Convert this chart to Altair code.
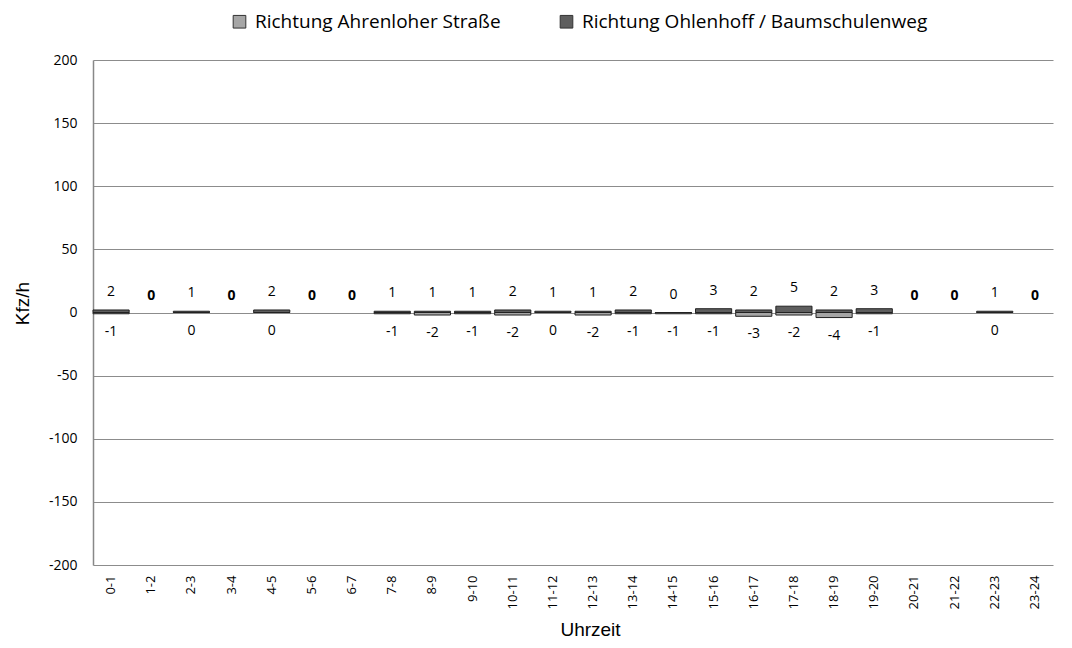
import altair as alt
import pandas as pd

hours = ["0-1","1-2","2-3","3-4","4-5","5-6","6-7","7-8","8-9","9-10","10-11","11-12",
         "12-13","13-14","14-15","15-16","16-17","17-18","18-19","19-20","20-21","21-22","22-23","23-24"]
# Richtung Ohlenhoff / Baumschulenweg (positive), None = no data
ohlenhoff = [2,None,1,None,2,None,None,1,1,1,2,1,1,2,0,3,2,5,2,3,None,None,1,None]
# Richtung Ahrenloher Straße (negative), None = no data
ahrenloher = [-1,None,0,None,0,None,None,-1,-2,-1,-2,0,-2,-1,-1,-1,-3,-2,-4,-1,None,None,0,None]

S1 = "Richtung Ahrenloher Straße"
S2 = "Richtung Ohlenhoff / Baumschulenweg"

rows = []
for h, p, n in zip(hours, ohlenhoff, ahrenloher):
    if n is not None:
        rows.append({"h": h, "serie": S1, "v": n, "t": str(n)})
    if p is not None:
        rows.append({"h": h, "serie": S2, "v": p, "t": str(p)})
df = pd.DataFrame(rows)
empty = pd.DataFrame({"h": [h for h, p in zip(hours, ohlenhoff) if p is None], "v": 0, "t": "0"})

FONT = "Open Sans"
xscale = alt.Scale(paddingInner=0.1, paddingOuter=0.0, range=[0, 960])
xenc = alt.X("h:N", sort=hours, title="Uhrzeit", scale=xscale,
             axis=alt.Axis(labelAngle=-90, labelFont=FONT, labelFontSize=13, labelColor="#000",
                           labelPadding=10, ticks=False, domain=False, grid=False,
                           titleFont="Liberation Sans", titleFontSize=19, titleFontWeight="normal",
                           titlePadding=12, titleColor="#000", titleX=497))
yscale = alt.Scale(domain=[-200, 200], nice=False)

bars = alt.Chart(df).mark_bar(stroke="#222", strokeWidth=1).encode(
    x=xenc,
    y=alt.Y("v:Q", scale=yscale, title="Kfz/h",
            axis=alt.Axis(values=list(range(-200, 201, 50)), labelExpr="'' + datum.value",
                          labelFont=FONT, labelFontSize=14, labelPadding=16,
                          labelColor="#000", ticks=False, domainColor="#888", domainWidth=1.5,
                          gridColor="#8c8c8c", titleFont="Liberation Sans", titleFontSize=19,
                          titleFontWeight="normal", titleColor="#000", titlePadding=16, titleY=243)),
    y2=alt.datum(0),
    color=alt.Color("serie:N", sort=[S1, S2],
                    scale=alt.Scale(domain=[S1, S2], range=["#a6a6a6", "#5e5e5e"]),
                    legend=alt.Legend(title=None, orient="none", legendX=137, legendY=-48,
                                      direction="horizontal", symbolType="square", symbolSize=160,
                                      symbolStrokeColor="#333", symbolStrokeWidth=1,
                                      labelFont=FONT, labelFontSize=19, labelColor="#000",
                                      columnPadding=56, labelLimit=500, labelOffset=6)),
)

xt = alt.X("h:N", sort=hours, scale=xscale)
yt = alt.Y("v:Q", scale=yscale)
pos = alt.Chart(df[df.serie == S2]).mark_text(baseline="bottom", dy=-11, font=FONT, fontSize=14, color="#000").encode(
    x=xt, y=yt, text="t:N")
neg = alt.Chart(df[df.serie == S1]).mark_text(baseline="top", dy=11, font=FONT, fontSize=14, color="#000").encode(
    x=xt, y=yt, text="t:N")
zero = alt.Chart(empty).mark_text(baseline="bottom", dy=-10, font=FONT, fontSize=14, fontWeight="bold", color="#000").encode(
    x=xt, y=yt, text="t:N")

chart = alt.layer(bars, pos, neg, zero).properties(
    width=971, height=505,
    background="white",
    autosize=alt.AutoSizeParams(type="none"),
    padding={"left": 85, "top": 52, "right": 0, "bottom": 75},
).configure_view(strokeWidth=0, stroke=None)

chart.save("out.html", embed_options={"renderer": "svg", "actions": False})
